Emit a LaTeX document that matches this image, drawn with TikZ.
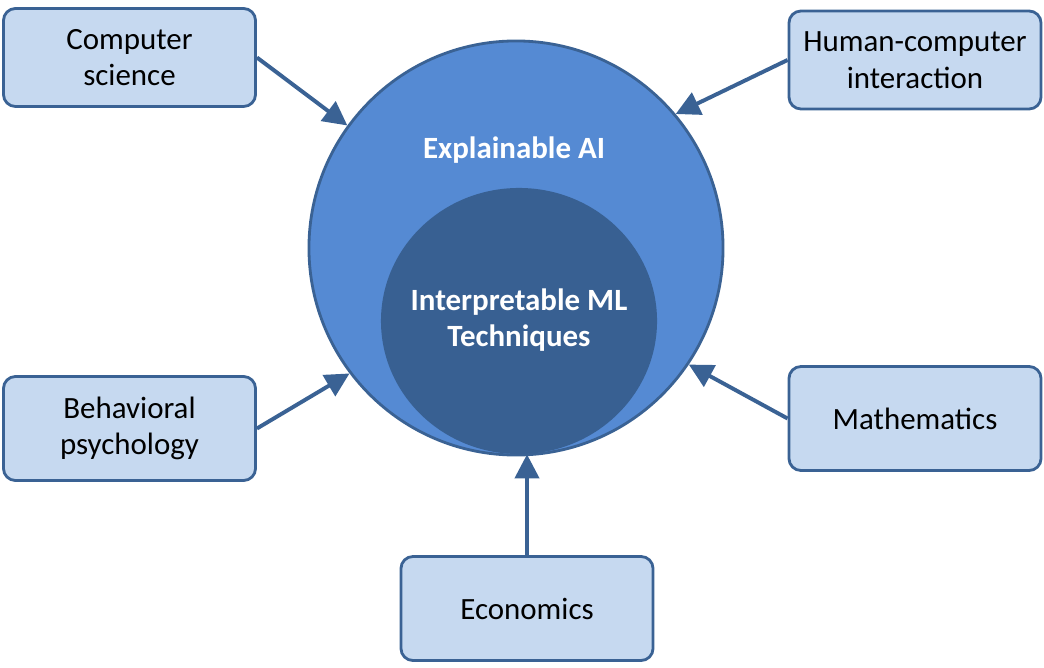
\documentclass[tikz,border=0pt]{standalone}
\usepackage{fontspec}
\setmainfont{Carlito}
\usetikzlibrary{shapes.geometric,arrows.meta}
\definecolor{xaiblue}{RGB}{85,138,211}
\definecolor{imldark}{RGB}{56,96,146}
\definecolor{boxfill}{RGB}{198,217,240}
\definecolor{edgeblue}{RGB}{58,98,148}

\begin{document}
\begin{tikzpicture}[x=0.025cm,y=-0.025cm,
    field/.style={draw=edgeblue,fill=boxfill,line width=2pt,rounded corners=0.3cm,
        minimum width=6.3cm,align=center,font=\fontsize{22}{26}\selectfont},
    feed/.style={draw=edgeblue,line width=2.8pt,-{Triangle[length=0.6cm,width=0.6cm]}},
    label/.style={text=white,align=center,font=\fontsize{22}{26}\selectfont\bfseries}]
                {
    \useasboundingbox (0,0) rectangle (1044,668);

    \node[circle,draw=edgeblue,fill=xaiblue,line width=2pt,minimum size=10.35cm] (xai) at (516,248) {};
    \node[ellipse,fill=imldark,inner sep=0pt,minimum width=6.9cm,minimum height=6.65cm] (iml) at (519,321) {};
    \node[label] (xailabel) at (514,150) {Explainable AI};
    \node[label] (imllabel) at (519,320) {Interpretable ML\\Techniques};

    \node[field,minimum height=2.45cm] (cs) at (129.5,57.5) {Computer\\science};
    \node[field,minimum height=2.45cm] (hci) at (915,60) {Human-computer\\interaction};
    \node[field,minimum height=2.6cm] (bp) at (129.5,428.5) {Behavioral\\psychology};
    \node[field,minimum height=2.6cm] (math) at (915,418.5) {Mathematics};
    \node[field,minimum height=2.6cm] (econ) at (527,608.5) {Economics};

    \draw[feed] (cs.east) -- (xai.144);
    \draw[feed] (hci.west) -- (xai.40);
    \draw[feed] (bp.east) -- (xai.217);
    \draw[feed] (math.west) -- (xai.-34);
    \draw[feed] (econ.north) -- (econ.north |- iml.south);
}
\end{tikzpicture}
\end{document}
